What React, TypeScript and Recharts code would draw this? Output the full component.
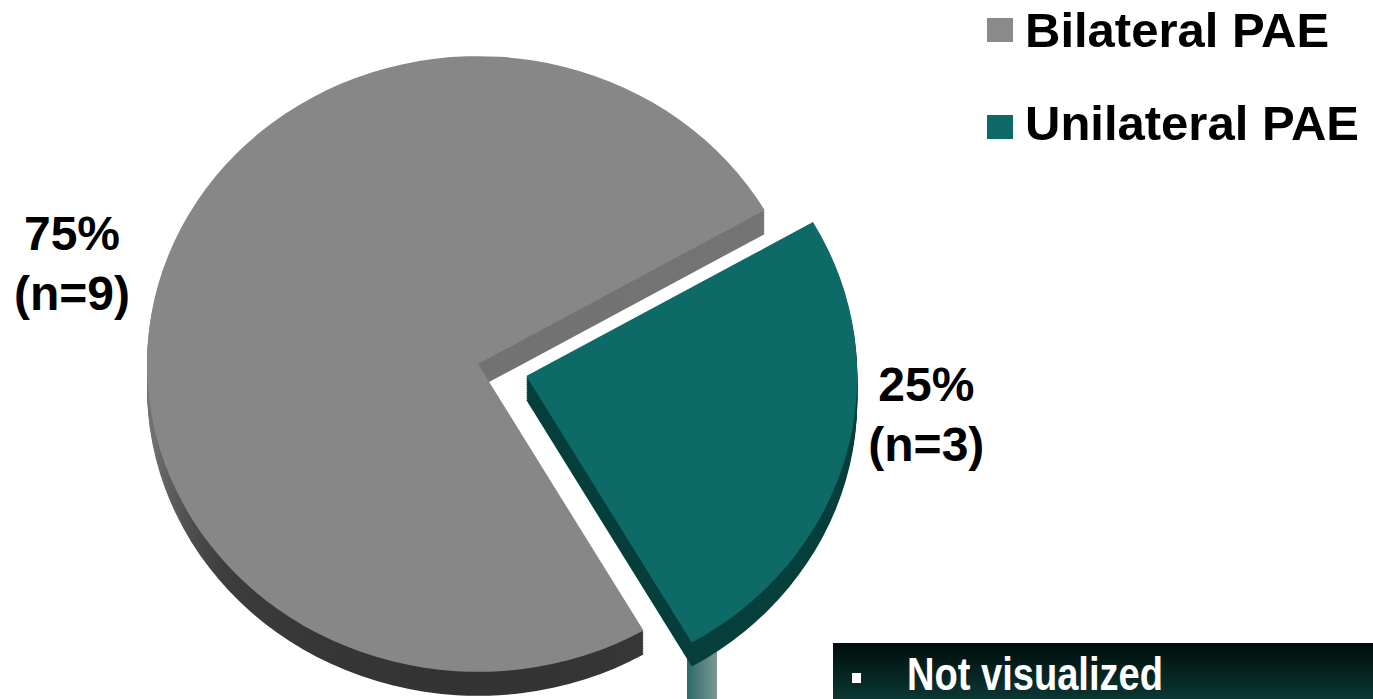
import React from 'react';
import { PieChart, Pie, Cell, Legend } from 'recharts';

// ---- data ----
const categories = ['Bilateral PAE', 'Unilateral PAE'];
const counts = [9, 3];
const data = categories.map((name, i) => ({ name, value: counts[i] }));
const total = counts.reduce((a, b) => a + b, 0);

// ---- style / layout ----
const SURFACE = ['#878787', '#0d6a66'];
const LEGEND_SWATCH = ['#8a8a8a', '#0d6a66'];
const WALL = ['url(#grayWall)', '#073f3c'];
const FONT = '"Liberation Sans", Arial, Helvetica, sans-serif';

const S = 0.93; // vertical squash of the tilted pie
const W = 1373;
const H = Math.round(699 / S);
const R = 331;
const CX = 478;
const CY = 364 / S;
const START = -60;
const END = -420;
const EXPLODE = [0, 50];
const DEPTH = 24 / S;
const LAYERS = Array.from({ length: 12 }, (_, k) => DEPTH - (k * DEPTH) / 12);
const LABEL_OFF = [
  { dx: -406, dy: -102 },
  { dx: 400, dy: 37 },
];

// explode offsets derived from each slice's mid angle
const RAD = Math.PI / 180;
let acc = 0;
const offsets = counts.map((v, i) => {
  const a0 = START + ((END - START) * acc) / total;
  acc += v;
  const a1 = START + ((END - START) * acc) / total;
  const mid = (a0 + a1) / 2;
  return {
    ox: EXPLODE[i] * Math.cos(-mid * RAD),
    oy: EXPLODE[i] * Math.sin(-mid * RAD),
  };
});

const makeLabel = (i: number) => (props: any) => {
  if (props.index !== i) return null;
  const v = counts[i];
  const pct = Math.round((v / total) * 100);
  const x = CX + offsets[i].ox + LABEL_OFF[i].dx;
  const y = CY + offsets[i].oy + LABEL_OFF[i].dy / S;
  return (
    <g transform={`translate(${x},${y}) scale(1,${1 / S})`}>
      <text textAnchor="middle" fontFamily={FONT} fontWeight={700} fontSize={48} fill="#000">
        <tspan x={0} y={-12}>{`${pct}%`}</tspan>
        <tspan x={0} y={48}>{`(n=${v})`}</tspan>
      </text>
    </g>
  );
};

const LegendContent = () => (
  <svg
    width={W}
    height={160}
    style={{ transform: `scaleY(${1 / S})`, transformOrigin: '0 0', display: 'block' }}
  >
    {categories.map((c, i) => (
      <g key={c}>
        <rect x={987} y={18 + i * 97} width={26} height={24} fill={LEGEND_SWATCH[i]} />
        <text x={1025} y={47 + i * 93} fontFamily={FONT} fontWeight={700} fontSize={49} fill="#000">
          {c}
        </text>
      </g>
    ))}
  </svg>
);

export default function App() {
  return (
    <div
      style={{
        position: 'absolute',
        left: 0,
        top: 0,
        width: W,
        height: 699,
        overflow: 'hidden',
        background: '#fff',
      }}
    >
      {/* decorative slide bar behind the pie */}
      <div
        style={{
          position: 'absolute',
          left: 687,
          top: 640,
          width: 30,
          height: 59,
          background: 'linear-gradient(to right, #2b6b68, #7b9795)',
        }}
      />
      <div
        style={{
          position: 'absolute',
          left: 0,
          top: 0,
          width: W,
          height: H,
          transform: `scaleY(${S})`,
          transformOrigin: '0 0',
        }}
      >
        <PieChart width={W} height={H} margin={{ top: 0, right: 0, bottom: 0, left: 0 }}>
          <defs>
            <linearGradient id="grayWall" x1="0" y1="0" x2="0" y2="1">
              <stop offset="0" stopColor="#767676" />
              <stop offset="0.6" stopColor="#717171" />
              <stop offset="0.82" stopColor="#3d3d3d" />
              <stop offset="1" stopColor="#333333" />
            </linearGradient>
          </defs>
          {[0, 1].map((i) =>
            LAYERS.map((d, k) => (
              <Pie
                key={`wall-${i}-${k}`}
                data={data}
                dataKey="value"
                nameKey="name"
                cx={CX + offsets[i].ox}
                cy={CY + offsets[i].oy + d}
                outerRadius={R}
                startAngle={START}
                endAngle={END}
                stroke="none"
                legendType="none"
                isAnimationActive={false}
              >
                {data.map((_, j) => (
                  <Cell key={j} fill={j === i ? WALL[i] : 'none'} />
                ))}
              </Pie>
            ))
          )}
          {[0, 1].map((i) => (
            <Pie
              key={`top-${i}`}
              data={data}
              dataKey="value"
              nameKey="name"
              cx={CX + offsets[i].ox}
              cy={CY + offsets[i].oy}
              outerRadius={R}
              startAngle={START}
              endAngle={END}
              stroke="none"
              labelLine={false}
              label={makeLabel(i)}
              isAnimationActive={false}
            >
              {data.map((_, j) => (
                <Cell key={j} fill={j === i ? SURFACE[i] : 'none'} />
              ))}
            </Pie>
          ))}
          <Legend
            content={LegendContent}
            wrapperStyle={{ position: 'absolute', left: 0, top: 0, bottom: 'auto', width: W, height: 160 / S }}
          />
        </PieChart>
      </div>
      {/* dark caption box */}
      <svg
        width={540}
        height={56}
        style={{ position: 'absolute', left: 833, top: 643, display: 'block' }}
      >
        <defs>
          <linearGradient id="boxGrad" x1="0" y1="0" x2="0" y2="1">
            <stop offset="0" stopColor="#000d0b" />
            <stop offset="1" stopColor="#0b3733" />
          </linearGradient>
        </defs>
        <rect x={0} y={0} width={540} height={56} fill="url(#boxGrad)" />
        <rect x={19} y={30} width={9} height={10} fill="#fff" />
        <text
          x={74}
          y={47}
          fontFamily={FONT}
          fontWeight={700}
          fontSize={46}
          fill="#fff"
          textLength={256}
          lengthAdjust="spacingAndGlyphs"
        >
          Not visualized
        </text>
      </svg>
    </div>
  );
}
